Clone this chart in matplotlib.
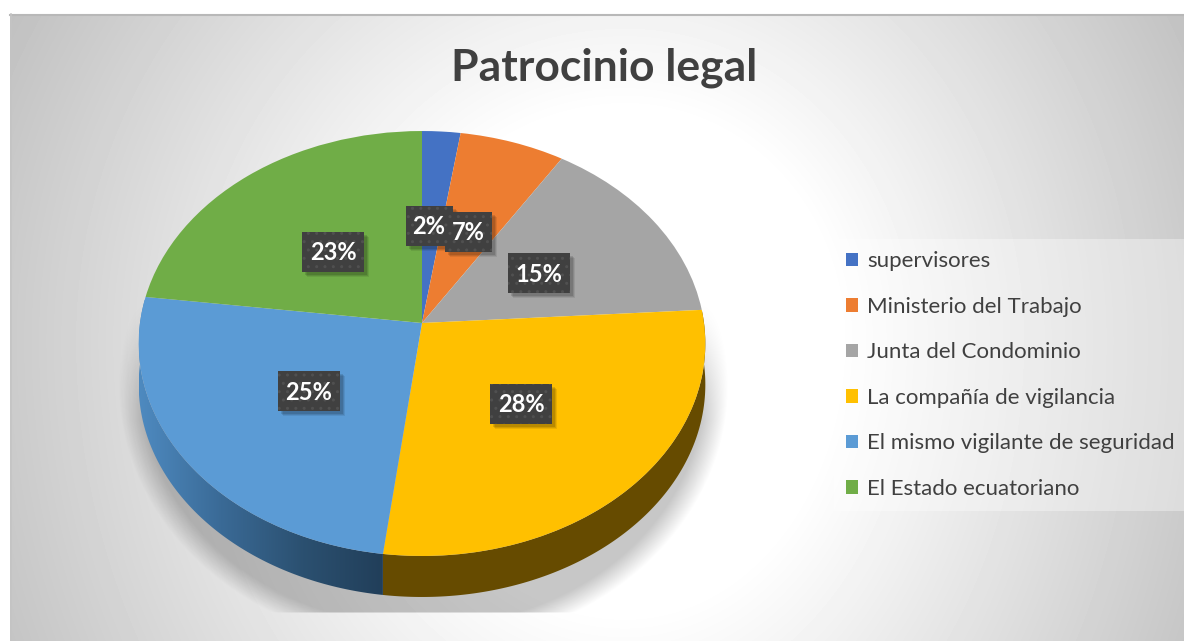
import numpy as np
import matplotlib
matplotlib.use("Agg")
import matplotlib.pyplot as plt
from matplotlib.patches import Polygon, Rectangle
from matplotlib.transforms import Transform
from matplotlib.colors import LinearSegmentedColormap

# datos del grafico
categorias = ["supervisores", "Ministerio del Trabajo", "Junta del Condominio",
              "La compañía de vigilancia", "El mismo vigilante de seguridad",
              "El Estado ecuatoriano"]
valores = [2.4, 6.6, 15.0, 28.0, 25.0, 23.0]
colores = ["#4472C4", "#ED7D31", "#A5A5A5", "#FFC000", "#5B9BD5", "#70AD47"]
titulo = "Patrocinio legal"

# posicion de las etiquetas en pixeles (x, y centro)
pos_etiquetas = [(429, 226), (468, 232), (539, 273), (521, 404), (309, 391), (333, 252)]

W, H = 1184, 641
CX, CY = 422, 323
A, B, K = 282, 210.5, 0.0965
DEPTH = 41

plt.rcParams["font.family"] = ["Lato", "DejaVu Sans"]
plt.rcParams["hatch.linewidth"] = 1.0


class Perspectiva(Transform):
    """Lleva el disco unidad de la torta al plano inclinado (en pixeles)."""
    input_dims = 2
    output_dims = 2

    def transform_non_affine(self, xy):
        xy = np.asarray(xy, dtype=float)
        w = 1 + K * xy[:, 1]
        return np.column_stack([CX + A * xy[:, 0] / w, CY - B * xy[:, 1] / w])


fig = plt.figure(figsize=(W / 100, H / 100), dpi=100, facecolor="white")
ax = fig.add_axes([0, 0, 1, 1])

# ── Torta ──────────────────────────────────────────────────────────────────
wedges, _ = ax.pie(valores, colors=colores, startangle=90, counterclock=False,
                   wedgeprops={"linewidth": 0, "zorder": 3})
persp = Perspectiva()
for w in wedges:
    w.set_transform(persp + ax.transData)

ax.set_aspect("auto")
ax.axis("off")

# ── Fondo ──────────────────────────────────────────────────────────────────
yy, xx = np.mgrid[14:H, 10:W]
dx = (xx - 625) * np.where(xx > 625, 1.08, 1.0)
dy = (yy - 340) * np.where(yy > 340, 0.85, 1.0)
fondo = 1 - 0.000526 * np.clip(np.hypot(dx, dy) - 230, 0, None)
ax.imshow(fondo, cmap="gray", vmin=0, vmax=1, extent=(10, W, H, 14),
          aspect="auto", zorder=0)
ax.plot([10, W], [15, 15], color="#b8b8b8", lw=1.5, zorder=0.2)
ax.plot([10.5, 10.5], [14, H], color="#c4c4c4", lw=1.2, zorder=0.2)

# ── Sombra ─────────────────────────────────────────────────────────────────
yy, xx = np.mgrid[0:H, 0:W]
d = np.hypot((xx - 423) / 305, (yy - 385) / 262)
alpha = np.clip((1 - d) / 0.08, 0, 1)
alpha *= np.clip((yy - 300) / 120, 0, 1)
alpha *= np.clip((613 - yy) / 2, 0, 1)
sombra = np.zeros((H, W, 4))
sombra[..., 3] = 0.22 * alpha
ax.imshow(sombra, extent=(0, W, H, 0), aspect="auto", zorder=0.5)


# ── Pared lateral ──────────────────────────────────────────────────────────
def pared(w):
    t = np.radians(np.linspace(w.theta1, w.theta2, 200))
    arco = persp.transform(np.column_stack([np.cos(t), np.sin(t)]))
    abajo = arco[::-1] + [0, DEPTH]
    return np.vstack([arco, abajo])


amarillo = Polygon(pared(wedges[3]), fc="#664B00", ec="none", zorder=1)
ax.add_patch(amarillo)

cmap_lado = LinearSegmentedColormap.from_list("lado", ["#4E8AC0", "#3A6A96", "#2B5070", "#213E59"])
lado = Polygon(pared(wedges[4]), fc="none", ec="none", zorder=1.1)
ax.add_patch(lado)
img = ax.imshow(np.linspace(0, 1, 256)[None, :], cmap=cmap_lado, extent=(139, 386, 620, 300),
                aspect="auto", zorder=1.1)
img.set_clip_path(lado)
ax.set_xlim(0, W)
ax.set_ylim(H, 0)

# ── Etiquetas ──────────────────────────────────────────────────────────────
for i, (v, (x, y)) in enumerate(zip(valores, pos_etiquetas)):
    txt = f"{v:.0f}%"
    bw = 47 if len(txt) == 2 else 62
    bh = 40
    z = 5 + i * 0.1
    for off, al in [(5, 0.08), (4, 0.1), (3, 0.12)]:
        ax.add_patch(Rectangle((x - bw / 2 + off, y - bh / 2 + off), bw, bh, fc="black", alpha=al,
                               ec="none", zorder=z))
    ax.add_patch(Rectangle((x - bw / 2, y - bh / 2), bw, bh, fc="#404040", ec="#505050",
                           lw=0, hatch="..", zorder=z + 0.01))
    ax.text(x, y + 1, txt, color="white", fontsize=17, fontweight="bold",
            ha="center", va="center", zorder=z + 0.02)

# ── Titulo y leyenda ───────────────────────────────────────────────────────
ax.text(604, 68, titulo, fontsize=32, fontweight="bold", color="#404040",
        ha="center", va="center", zorder=6)

leg = ax.legend(wedges, categorias, loc="upper left", bbox_to_anchor=(834 / W, 1 - 239 / H),
                bbox_transform=ax.transAxes, frameon=True, fontsize=16,
                labelcolor="#404040", handlelength=0.55, handleheight=0.55,
                handletextpad=0.38, labelspacing=1.15, borderaxespad=0,
                borderpad=0.55, fancybox=False, framealpha=0.35, edgecolor="none",
                facecolor="white")
leg.set_zorder(4)

fig.savefig("out.png", dpi=100, facecolor="white")
plt.close(fig)
